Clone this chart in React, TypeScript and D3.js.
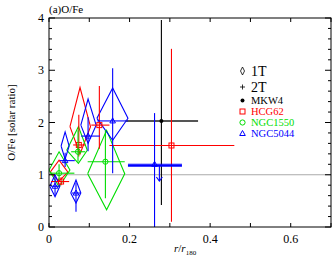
import React from "react";
import * as d3 from "d3";

// groups and colours
const groups = ["MKW4", "HCG62", "NGC1550", "NGC5044"];
const groupColors = ["#000000", "#ff0000", "#00dd00", "#0000ff"];

// 1T fits (diamonds): group, r, rLo, rHi, ratio, lo, hi
const oneT: [string, number, number, number, number, number, number][] = [
  ["HCG62", 0.025, 0.003, 0.047, 1.05, 0.88, 1.28],
  ["HCG62", 0.077, 0.052, 0.103, 1.92, 1.4, 2.67],
  ["NGC1550", 0.025, 0.0, 0.052, 1.09, 0.77, 1.44],
  ["NGC1550", 0.073, 0.044, 0.095, 1.47, 1.22, 1.92],
  ["NGC1550", 0.143, 0.096, 0.188, 1.02, 0.33, 1.85],
  ["NGC5044", 0.015, 0.002, 0.027, 0.78, 0.58, 1.0],
  ["NGC5044", 0.067, 0.054, 0.079, 0.65, 0.46, 0.9],
  ["NGC5044", 0.04, 0.03, 0.05, 1.55, 1.3, 1.82],
  ["NGC5044", 0.097, 0.079, 0.117, 1.95, 1.6, 2.45],
  ["NGC5044", 0.158, 0.119, 0.196, 2.08, 1.66, 2.66],
];

// 2T fits (crosses)
const twoT: [string, number, number, number, number, number, number][] = [
  ["MKW4", 0.279, 0.19, 0.37, 2.03, 0.42, 3.96],
  ["HCG62", 0.03, 0.005, 0.05, 0.87, 0.8, 0.95],
  ["HCG62", 0.074, 0.06, 0.09, 1.57, 1.35, 2.15],
  ["HCG62", 0.125, 0.105, 0.15, 1.95, 1.5, 2.7],
  ["HCG62", 0.304, 0.15, 0.46, 1.56, 0.1, 3.41],
  ["NGC1550", 0.025, 0.003, 0.063, 1.03, 0.9, 1.2],
  ["NGC1550", 0.072, 0.055, 0.09, 1.44, 1.25, 1.85],
  ["NGC1550", 0.14, 0.096, 0.188, 1.25, 0.55, 1.85],
  ["NGC5044", 0.015, 0.005, 0.025, 0.78, 0.6, 0.95],
  ["NGC5044", 0.067, 0.057, 0.077, 0.65, 0.29, 0.85],
  ["NGC5044", 0.04, 0.027, 0.064, 1.27, 1.15, 1.42],
  ["NGC5044", 0.097, 0.08, 0.126, 1.74, 1.45, 2.1],
  ["NGC5044", 0.158, 0.12, 0.196, 2.03, 1.03, 3.04],
  ["NGC5044", 0.262, 0.196, 0.33, 1.2, 0.0, 2.18],
];

// upper limits: group, r, rLo, rHi, ratio, arrow end
const limits: [string, number, number, number, number, number][] = [
  ["NGC5044", 0.274, 0.196, 0.33, 1.17, 0.88],
];

const xTicks = [0, 0.2, 0.4, 0.6];
const yTicks = [0, 1, 2, 3, 4];

const W = 332;
const H = 258;
const M = { left: 49, right: 1, top: 18, bottom: 31 };
const serif = "'Liberation Serif', 'Times New Roman', serif";

export default function App() {
  const x = d3.scaleLinear().domain([0, 0.7]).range([M.left, W - M.right]);
  const y = d3.scaleLinear().domain([0, 4]).range([H - M.bottom, M.top]);
  const color = d3.scaleOrdinal<string, string>().domain(groups).range(groupColors);
  const line = d3.line<[number, number]>();

  const x0 = x.range()[0], x1 = x.range()[1];
  const y0 = y.range()[0], y1 = y.range()[1];

  const xMinor = d3.range(0, 0.71, 0.1);
  const yMinor = d3.range(0, 4.01, 0.2);
  const ts = { fontFamily: serif };

  const marker = (g: string, cx: number, cy: number, key: string) => {
    const c = color(g);
    if (g === "MKW4") return <circle key={key} cx={cx} cy={cy} r={2} fill={c} stroke="none" />;
    if (g === "HCG62")
      return <rect key={key} x={cx - 2.5} y={cy - 2.5} width={5} height={5} fill="none" stroke={c} strokeWidth={1} />;
    if (g === "NGC1550") return <circle key={key} cx={cx} cy={cy} r={2.6} fill="none" stroke={c} strokeWidth={1} />;
    return (
      <path key={key} d={`M${cx},${cy - 3}L${cx + 2.8},${cy + 2}L${cx - 2.8},${cy + 2}Z`} fill="none" stroke={c} strokeWidth={1} />
    );
  };

  return (
    <svg width={W} height={H} style={{ position: "absolute", left: 0, top: 0 }}>
      <rect width={W} height={H} fill="#fff" />
      <defs>
        <clipPath id="plot">
          <rect x={x0} y={y1} width={x1 - x0} height={y0 - y1} />
        </clipPath>
      </defs>

      {/* solar line */}
      <line x1={x0} x2={x1} y1={y(1)} y2={y(1)} stroke="#aaa" strokeWidth={1} />

      <g clipPath="url(#plot)" fill="none">
        {oneT.map((d, i) => {
          const [g, r, rl, rh, v, lo, hi] = d;
          const pts: [number, number][] = [
            [x(rl), y(v)], [x(r), y(hi)], [x(rh), y(v)], [x(r), y(lo)], [x(rl), y(v)],
          ];
          return <path key={"d" + i} d={line(pts) || ""} stroke={color(g)} strokeWidth={1.1} />;
        })}
        {twoT.map((d, i) => {
          const [g, r, rl, rh, v, lo, hi] = d;
          const c = color(g);
          const sw = g === "MKW4" ? 2 : 1.1;
          const sc = g === "MKW4" ? "#555" : c;
          return (
            <g key={"c" + i} stroke={c}>
              <line x1={x(rl)} x2={x(rh)} y1={y(v)} y2={y(v)} stroke={sc} strokeWidth={sw} />
              <line x1={x(r)} x2={x(r)} y1={y(lo)} y2={y(hi)} strokeWidth={1.1} />
              {marker(g, x(r), y(v), "m" + i)}
            </g>
          );
        })}
        {limits.map((d, i) => {
          const [g, r, rl, rh, v, to] = d;
          const c = color(g);
          return (
            <g key={"l" + i} stroke={c} strokeWidth={1.1}>
              <line x1={x(rl)} x2={x(rh)} y1={y(v)} y2={y(v)} strokeWidth={2} />
              <line x1={x(r)} x2={x(r)} y1={y(v)} y2={y(to)} />
              <path d={`M${x(r) - 3},${y(to) - 4}L${x(r)},${y(to)}L${x(r) + 3},${y(to) - 4}`} />
            </g>
          );
        })}
      </g>

      {/* frame and ticks */}
      <rect x={x0} y={y1} width={x1 - x0} height={y0 - y1} fill="none" stroke="#000" strokeWidth={1} />
      <g stroke="#000" strokeWidth={1}>
        {xMinor.map((t, i) => (
          <g key={"xt" + i}>
            <line x1={x(t)} x2={x(t)} y1={y0} y2={y0 - 4} />
            <line x1={x(t)} x2={x(t)} y1={y1} y2={y1 + 4} />
          </g>
        ))}
        {yMinor.map((t, i) => {
          const len = Math.abs(t - Math.round(t)) < 1e-6 ? 6 : 3;
          return (
            <g key={"yt" + i}>
              <line x1={x0} x2={x0 + len} y1={y(t)} y2={y(t)} />
              <line x1={x1} x2={x1 - len} y1={y(t)} y2={y(t)} />
            </g>
          );
        })}
      </g>

      {/* tick labels */}
      <g fontSize={12} fill="#000">
        {xTicks.map((t) => (
          <text key={"xl" + t} x={x(t)} y={y0 + 16} textAnchor="middle" style={ts}>
            {t === 0 ? "0" : t.toFixed(1)}
          </text>
        ))}
        {yTicks.map((t) => (
          <text key={"yl" + t} x={x0 - 5} y={y(t) + 4} textAnchor="end" style={ts}>
            {t}
          </text>
        ))}
      </g>

      {/* titles */}
      <text x={x0} y={13} fontSize={11} style={ts}>(a)O/Fe</text>
      <text transform={`translate(15,${(y0 + y1) / 2}) rotate(-90)`} textAnchor="middle" fontSize={11} style={ts}>
        O/Fe [solar ratio]
      </text>
      <text x={174} y={252} fontSize={11} style={ts}>
        <tspan fontStyle="italic">r</tspan>/<tspan fontStyle="italic">r</tspan>
        <tspan fontSize={7} dy={3}>180</tspan>
      </text>

      {/* legend */}
      <g>
        <path d="M242.5,67L244.5,71L242.5,75L240.5,71Z" fill="none" stroke="#000" strokeWidth={0.8} />
        <text x={251} y={76} fontSize={14} style={ts}>1T</text>
        <path d="M240,87H245M242.5,84.5V89.5" stroke="#000" strokeWidth={0.8} />
        <text x={251} y={92} fontSize={14} style={ts}>2T</text>
        {groups.map((g, i) => {
          const ty = 104 + i * 11;
          return (
            <g key={"lg" + g}>
              {marker(g, 242.5, ty - 3.5, "lm" + g)}
              <text x={251} y={ty} fontSize={10.5} fill={color(g)} style={ts}>{g}</text>
            </g>
          );
        })}
      </g>
    </svg>
  );
}
